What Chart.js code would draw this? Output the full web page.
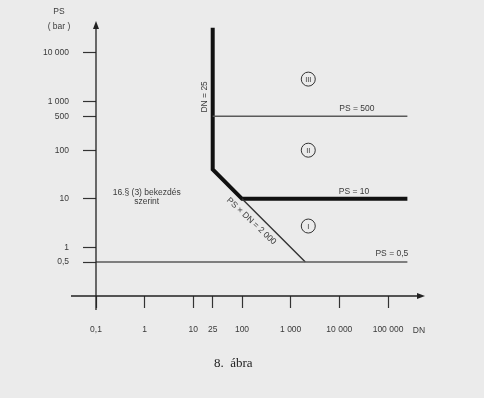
<!DOCTYPE html>
<html>
<head>
<meta charset="utf-8">
<script src="https://cdn.jsdelivr.net/npm/chart.js@4/dist/chart.umd.min.js"></script>
<style>
html,body{margin:0;padding:0;background:#ebebeb;}
#wrap{width:484px;height:398px;}
</style>
</head>
<body>
<div id="wrap"><canvas id="c" width="484" height="398"></canvas></div>
<script>
// ---- data ----
const xTicks = [0.1, 1, 10, 25, 100, 1000, 10000, 100000];
const xTickLabels = ['0,1', '1', '10', '25', '100', '1 000', '10 000', '100 000'];
const yTicks = [0.5, 1, 10, 100, 500, 1000, 10000];
const yTickLabels = ['0,5', '1', '10', '100', '500', '1 000', '10 000'];

const thickDN = [25, 25, 100, 250000];
const thickPS = [33000, 40, 10, 10];
const ps500DN = [25, 250000];
const ps500PS = [500, 500];
const diagDN = [100, 2000];
const diagPS = [10, 0.5];
const ps05DN = [0.1, 250000];
const ps05PS = [0.5, 0.5];

// region markers (category centres)
const regionNames = ['III', 'II', 'I'];
const regionDN = [2300, 2300, 2300];
const regionPS = [2900, 100, 2.75];

const toPts = (xs, ys) => xs.map((x, i) => ({x: x, y: ys[i]}));

const TXT = '#3a3a3a';
const FONT = '8.5px "Liberation Sans", Arial, sans-serif';

const overlay = {
  id: 'overlay',
  beforeDraw(chart) {
    const ctx = chart.ctx;
    ctx.save();
    ctx.fillStyle = '#ebebeb';
    ctx.fillRect(0, 0, chart.width, chart.height);
    ctx.restore();
  },
  afterDraw(chart) {
    const ctx = chart.ctx;
    const xs = chart.scales.x, ys = chart.scales.y;
    const ca = chart.chartArea;
    const X = v => xs.getPixelForValue(v), Y = v => ys.getPixelForValue(v);
    ctx.save();
    // axes with arrows
    ctx.strokeStyle = '#222';
    ctx.fillStyle = '#222';
    ctx.lineWidth = 1.3;
    const ax0 = X(0.1), ay0 = Y(0.1);
    ctx.beginPath();
    ctx.moveTo(ax0 - 25, ay0); ctx.lineTo(ca.right - 4, ay0);
    ctx.moveTo(ax0, ay0 + 14); ctx.lineTo(ax0, ca.top + 4);
    ctx.stroke();
    ctx.beginPath();
    ctx.moveTo(ca.right, ay0); ctx.lineTo(ca.right - 8, ay0 - 3); ctx.lineTo(ca.right - 8, ay0 + 3); ctx.closePath();
    ctx.fill();
    ctx.beginPath();
    ctx.moveTo(ax0, ca.top); ctx.lineTo(ax0 - 3, ca.top + 8); ctx.lineTo(ax0 + 3, ca.top + 8); ctx.closePath();
    ctx.fill();

    // texts
    ctx.fillStyle = TXT;
    ctx.font = FONT;
    ctx.textAlign = 'center';
    ctx.textBaseline = 'middle';
    ctx.fillText('PS', ax0 - 37, 12);
    ctx.fillText('( bar )', ax0 - 37, 27);
    ctx.fillText('DN', ca.right - 6, ay0 + 35);

    ctx.fillText('PS = 500', X(23000), Y(500) - 8);
    ctx.fillText('PS = 10', X(20000), Y(10) - 7);
    ctx.fillText('PS = 0,5', X(120000), Y(0.5) - 8);

    ctx.fillText('16.§ (3) bekezdés', X(1) + 2, Y(10) - 6);
    ctx.fillText('szerint', X(1) + 2, Y(10) + 3);

    // DN = 25 rotated
    ctx.save();
    ctx.translate(X(25) - 8, Y(1250));
    ctx.rotate(-Math.PI / 2);
    ctx.fillText('DN = 25', 0, 0);
    ctx.restore();

    // PS x DN = 2 000 along diagonal
    ctx.save();
    const mx = X(250), my = Y(4);
    ctx.translate(mx - 10, my + 3);
    ctx.rotate(Math.atan2(Y(0.5) - Y(10), X(2000) - X(100)) - 0.03);
    ctx.fillText('PS × DN = 2 000', 0, 0);
    ctx.restore();

    // circled region numerals
    ctx.strokeStyle = '#333';
    ctx.lineWidth = 1;
    ctx.font = '7.5px "Liberation Sans", Arial, sans-serif';
    regionNames.forEach((n, i) => {
      const cx = X(regionDN[i]), cy = Y(regionPS[i]);
      ctx.beginPath();
      ctx.arc(cx, cy, 7, 0, Math.PI * 2);
      ctx.stroke();
      ctx.fillText(n, cx, cy + 0.5);
    });

    // caption
    ctx.fillStyle = '#222';
    ctx.font = '13px "Liberation Serif", "DejaVu Serif", serif';
    ctx.textAlign = 'left';
    ctx.fillText('8.  ábra', 214, 364);
    ctx.restore();
  }
};

const lineDs = (pts, w, col) => ({
  data: pts, showLine: true, pointRadius: 0, borderWidth: w,
  borderColor: col, backgroundColor: col, fill: false,
  borderJoinStyle: 'miter', borderCapStyle: 'butt', tension: 0
});

new Chart(document.getElementById('c'), {
  type: 'scatter',
  data: {
    datasets: [
      lineDs(toPts(ps05DN, ps05PS), 1.4, '#5a5a5a'),
      lineDs(toPts(ps500DN, ps500PS), 1.4, '#5a5a5a'),
      lineDs(toPts(diagDN, diagPS), 1.4, '#333'),
      lineDs(toPts(thickDN, thickPS), 4, '#111')
    ]
  },
  options: {
    responsive: false,
    animation: false,
    events: [],
    layout: {padding: {left: 0, top: 21, right: 59, bottom: 0}},
    plugins: {legend: {display: false}, tooltip: {enabled: false}, title: {display: false}},
    scales: {
      x: {
        type: 'logarithmic',
        min: 0.1,
        max: Math.pow(10, 5.76),
        afterBuildTicks: s => { s.ticks = xTicks.map(v => ({value: v})); },
        afterFit: s => { s.height = 102; },
        border: {display: false},
        grid: {drawOnChartArea: false, drawTicks: true, tickLength: 12, tickColor: '#333', tickWidth: 1.2},
        ticks: {
          autoSkip: false, maxRotation: 0, minRotation: 0, padding: 17,
          color: TXT, font: {family: '"Liberation Sans", Arial, sans-serif', size: 8.5},
          callback: (v, i) => xTickLabels[i]
        }
      },
      y: {
        type: 'logarithmic',
        min: 0.1,
        max: Math.pow(10, 4.658),
        afterBuildTicks: s => { s.ticks = yTicks.map(v => ({value: v})); },
        afterFit: s => { s.width = 96; },
        border: {display: false},
        grid: {drawOnChartArea: false, drawTicks: true, tickLength: 13, tickColor: '#333', tickWidth: 1.2},
        ticks: {
          autoSkip: false, padding: 14,
          color: TXT, font: {family: '"Liberation Sans", Arial, sans-serif', size: 8.5},
          callback: (v, i) => yTickLabels[i]
        }
      }
    }
  },
  plugins: [overlay]
});
</script>
</body>
</html>
